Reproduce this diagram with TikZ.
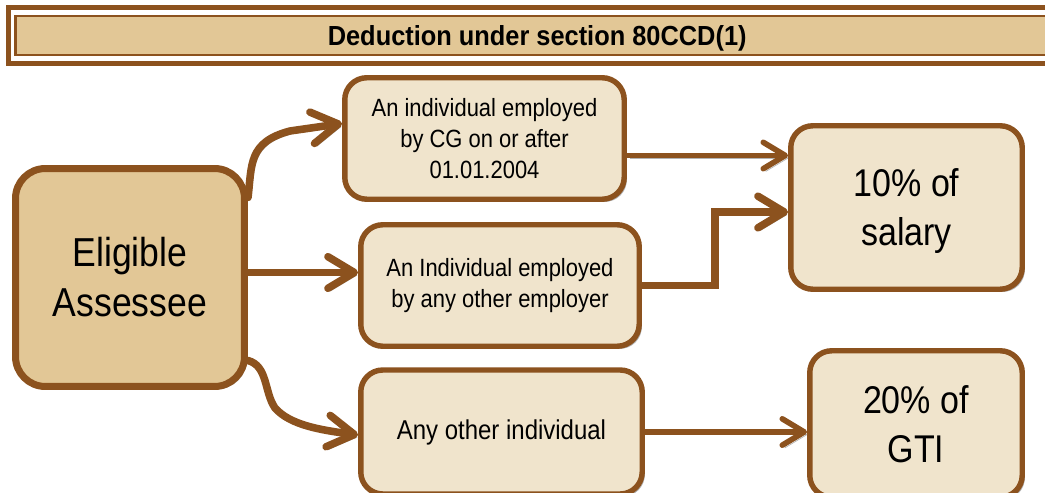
\documentclass[tikz,border=0pt]{standalone}
\usepackage{fontspec}
\setmainfont{Liberation Sans}[FakeStretch=0.88]
\newfontfamily\headfont{Liberation Sans}[FakeStretch=0.92]
\usepackage{xcolor}
\usepackage{tikz}
\usetikzlibrary{positioning,calc,arrows.meta,shadows}

\definecolor{barkbrown}{RGB}{140,82,30}
\definecolor{tanfill}{RGB}{226,199,150}
\definecolor{creamfill}{RGB}{240,228,204}

\begin{document}
\begin{tikzpicture}[x=0.02cm,y=-0.02cm,
    box/.style={draw=barkbrown, line width=3.1pt, fill=creamfill, rounded corners=12.5pt,
        align=center, inner sep=0pt,
        drop shadow={shadow xshift=1.5pt, shadow yshift=-1.5pt, opacity=0.3, fill=black},
        font=\fontsize{14.2pt}{17.6pt}\selectfont},
    bigbox/.style={box, line width=4pt, fill=tanfill, rounded corners=17pt,
        font=\fontsize{23pt}{28.5pt}\selectfont},
    ratebox/.style={box, font=\fontsize{22pt}{27.9pt}\selectfont},
    flow/.style={draw=barkbrown, line width=4.3pt, line cap=round,
        -{Straight Barb[length=15pt,width=18pt,round]},
        preaction={draw=black!30, transform canvas={shift={(1.5pt,-1.5pt)}}}},
    thinflow/.style={flow, line width=3.2pt, -{Straight Barb[length=12.5pt,width=15pt,round]}}]
    \useasboundingbox (0,0) rectangle (1045,493);

    % Heading
    \node[draw=barkbrown, line width=1.4pt, fill=tanfill, minimum width=20.87cm, minimum height=0.78cm,
        inner sep=0pt, text depth=0pt, font=\headfont\bfseries\fontsize{15.7pt}{18pt}\selectfont] (title) at (537.2,35.5)
        {Deduction under section 80CCD(1)};
    \draw[barkbrown, line width=2.6pt] ($(title.north west)+(-6,-7)$) rectangle ($(title.south east)+(6,7)$);

    % Boxes
    \node[bigbox, minimum width=4.58cm, minimum height=4.36cm] (elig) at (130,277.5) {Eligible\\Assessee};
    \node[box, minimum width=5.59cm, minimum height=2.43cm] (cg) at (484.5,138.5)
        {An individual employed\\by CG on or after\\01.01.2004};
    \node[box, minimum width=5.57cm, minimum height=2.43cm] (other) at (500,285.5)
        {An Individual employed\\by any other employer};
    \node[box, minimum width=5.63cm, minimum height=2.48cm, font=\fontsize{15.5pt}{18pt}\selectfont] (anyone)
        at (501.5,432) {Any other individual};
    \node[ratebox, minimum width=4.63cm, minimum height=3.27cm, text depth=0pt] (salary) at (906.5,207.5) {10\% of\\salary};
    \node[ratebox, minimum width=4.25cm, minimum height=2.93cm] (gti) at (916,424) {20\% of\\GTI};

    % Eligible to categories
    \draw[flow] ($(elig.east)+(0,-80)$) .. controls (252,165) and (248,142) .. (290,131) -- ($(cg.west)+(0,-15)$);
    \coordinate (e2) at ($(elig.east)+(0,-5)$);
    \draw[flow] (e2) -- (e2 -| other.west);
    \draw[flow] ($(elig.east)+(0,83)$) .. controls (268,366) and (264,392) .. (275,408)
        .. controls (290,425) and (320,430) .. ($(anyone.west)+(0,3)$);

    % Categories to limits
    \coordinate (c1) at ($(cg.east)+(0,17)$);
    \draw[thinflow] (c1) -- (c1 -| salary.west);
    \coordinate (mid) at ($(other.east)!0.5!(salary.west)$);
    \coordinate (s2) at ($(salary.west)+(0,4.5)$);
    \draw[flow] (other.east) -- (other.east -| mid) -- (mid |- s2) -- (s2);
    \draw[thinflow] (anyone.east) -- (anyone.east -| gti.west);
\end{tikzpicture}
\end{document}
